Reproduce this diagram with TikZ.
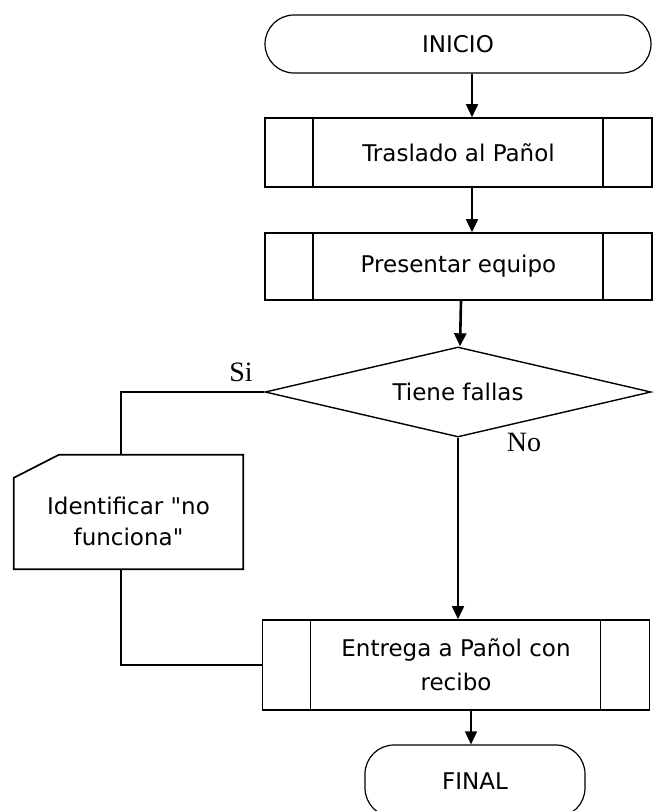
\documentclass[tikz,border=0pt]{standalone}
\usepackage{fontspec}
\setmainfont{DejaVu Sans}[Ligatures=TeXOff]
\newfontfamily\answerfont{Liberation Serif}
\usetikzlibrary{shapes.geometric,arrows.meta}
\tikzset{
  flowline/.style={line width=1.7pt},
  flowarrow/.style={flowline,-{Triangle[width=12pt,length=13pt]}},
  boxfont/.style={font=\fontsize{23}{34}\selectfont},
  terminal/.style={draw,line width=1.2pt,rounded corners=29pt,inner sep=0pt,boxfont},
  subproc/.style={draw,line width=1.6pt,inner sep=0pt,align=center,boxfont,
    minimum width=387pt,
    path picture={
      \draw[line width=1.6pt]
        ([xshift=48pt]path picture bounding box.north west) -- ([xshift=48pt]path picture bounding box.south west)
        ([xshift=-49pt]path picture bounding box.north east) -- ([xshift=-49pt]path picture bounding box.south east);
    }},
  decision/.style={draw,diamond,line width=1.4pt,aspect=4.3,inner sep=0pt,
    minimum width=386pt,minimum height=90pt,boxfont},
  notebox/.style={align=center,inner sep=0pt,minimum width=229pt,minimum height=114pt,
    font=\fontsize{23}{31}\selectfont},
  answer/.style={font=\answerfont\fontsize{28}{30}\selectfont}
}
\begin{document}
\begin{tikzpicture}[x=1pt,y=-1pt]
  \useasboundingbox (0,0) rectangle (655,811);
  % nodes
  \node [terminal,minimum width=386pt,minimum height=58pt] (inicio) at (458,44) {INICIO};
  \node [subproc,minimum height=69pt] (traslado) at (458.5,152.5) {Traslado al Pañol};
  \node [subproc,minimum height=67pt] (presentar) at (458.5,266.5) {Presentar equipo};
  \node [decision] (fallas) at (458,392) {Tiene fallas};
  \node [notebox] (identificar) at (128.5,512) {\rule{0pt}{37pt}Identificar "no\\funciona"};
  \node [subproc,minimum height=90pt] (entrega) at (456,665) {Entrega a Pañol con\\recibo};
  \node [terminal,minimum width=220pt,minimum height=72pt] (final) at (475,781) {FINAL};
  \node [answer] (si) at (241,372) {Si};
  \node [answer] (no) at (524,442) {No};
  % note shape
  \draw [flowline] ([xshift=45pt]identificar.north west) -- (identificar.north east)
    -- (identificar.south east) -- (identificar.south west)
    -- ([yshift=-23pt]identificar.north west) -- cycle;
  % connectors
  \draw [flowarrow] ([xshift=14pt]inicio.south) -- ([xshift=13.5pt]traslado.north);
  \draw [flowarrow] ([xshift=13.5pt]traslado.south) -- ([xshift=13.5pt]presentar.north);
  \draw [flowarrow,line width=2.6pt] ([xshift=2.5pt]presentar.south) -- ([xshift=2pt]fallas.north);
  \draw [flowarrow] (fallas.south) -- (fallas.south |- entrega.north);
  \draw [flowline] (fallas.west) -| ([xshift=-7.5pt]identificar.north);
  \draw [flowline] ([xshift=-7.5pt]identificar.south) |- (entrega.west);
  \draw [flowarrow] ([xshift=15pt]entrega.south) -- ([xshift=-4pt]final.north);
\end{tikzpicture}
\end{document}
